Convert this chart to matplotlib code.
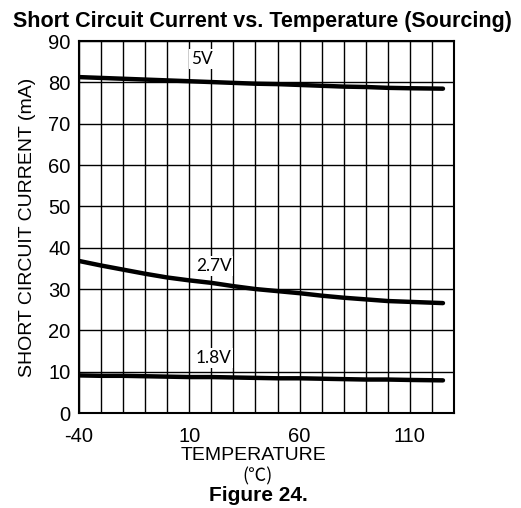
import numpy as np
import matplotlib
matplotlib.use("Agg")
import matplotlib.pyplot as plt

plt.rcParams['font.family'] = ['Liberation Sans', 'DejaVu Sans']
plt.rcParams['axes.unicode_minus'] = False

temp = [-40, -30, -20, -10, 0, 10, 20, 30, 40, 50, 60, 70, 80, 90, 100, 110, 125]
i_5v = [81.3, 81.1, 80.9, 80.7, 80.5, 80.3, 80.1, 79.9, 79.7, 79.6, 79.4, 79.2, 79.0, 78.9, 78.7, 78.6, 78.5]
i_27v = [36.8, 35.7, 34.7, 33.7, 32.8, 32.1, 31.5, 30.7, 30.0, 29.5, 29.0, 28.4, 27.9, 27.5, 27.1, 26.9, 26.6]
i_18v = [9.1, 9.0, 9.0, 8.9, 8.8, 8.7, 8.7, 8.6, 8.5, 8.4, 8.4, 8.3, 8.2, 8.1, 8.1, 8.0, 7.9]

labels = ["5V", "2.7V", "1.8V"]
label_pos = [(15.5, 85.7), (21, 35.6), (21, 13.4)]

xticks = [-40, 10, 60, 110]
yticks = [0, 10, 20, 30, 40, 50, 60, 70, 80, 90]

fig = plt.figure(figsize=(5.21, 5.08), dpi=100)
ax = fig.add_axes([0.1516, 0.187, 0.7198, 0.732])

for xv in range(-40, 131, 10):
    ax.axvline(xv, color='black', lw=1.0, zorder=1)
for yv in yticks:
    ax.axhline(yv, color='black', lw=1.0, zorder=1)

for series in (i_5v, i_27v, i_18v):
    ax.plot(temp, series, color='black', lw=3.2, solid_capstyle='round', zorder=3)

for txt, (lx, ly) in zip(labels, label_pos):
    ax.text(lx, ly, txt, ha='center', va='center', fontsize=12.4, family=['Lato', 'DejaVu Sans'],
            bbox=dict(facecolor='white', edgecolor='none', pad=1.5), zorder=2)

ax.set_xlim(-40, 130)
ax.set_ylim(0, 90)
ax.set_xticks(xticks)
ax.set_yticks(yticks)
ax.tick_params(length=0, labelsize=14.5)
ax.tick_params(axis='x', pad=10)
ax.tick_params(axis='y', pad=6)
for sp in ax.spines.values():
    sp.set_linewidth(1.5)

ax.set_ylabel("SHORT CIRCUIT CURRENT (mA)", fontsize=14, labelpad=9)
fig.text(0.486, 0.104, "TEMPERATURE", ha='center', va='center', fontsize=14)
fig.text(0.494, 0.062, "(℃)", ha='center', va='center', fontsize=13,
         family=['Noto Sans CJK SC', 'DejaVu Sans'])
fig.text(0.495, 0.024, "Figure 24.", ha='center', va='center', fontsize=15, fontweight='bold')
fig.text(0.503, 0.957, "Short Circuit Current vs. Temperature (Sourcing)", ha='center', va='center',
         fontsize=15.5, fontweight='bold')

fig.savefig("out.png", dpi=100)
